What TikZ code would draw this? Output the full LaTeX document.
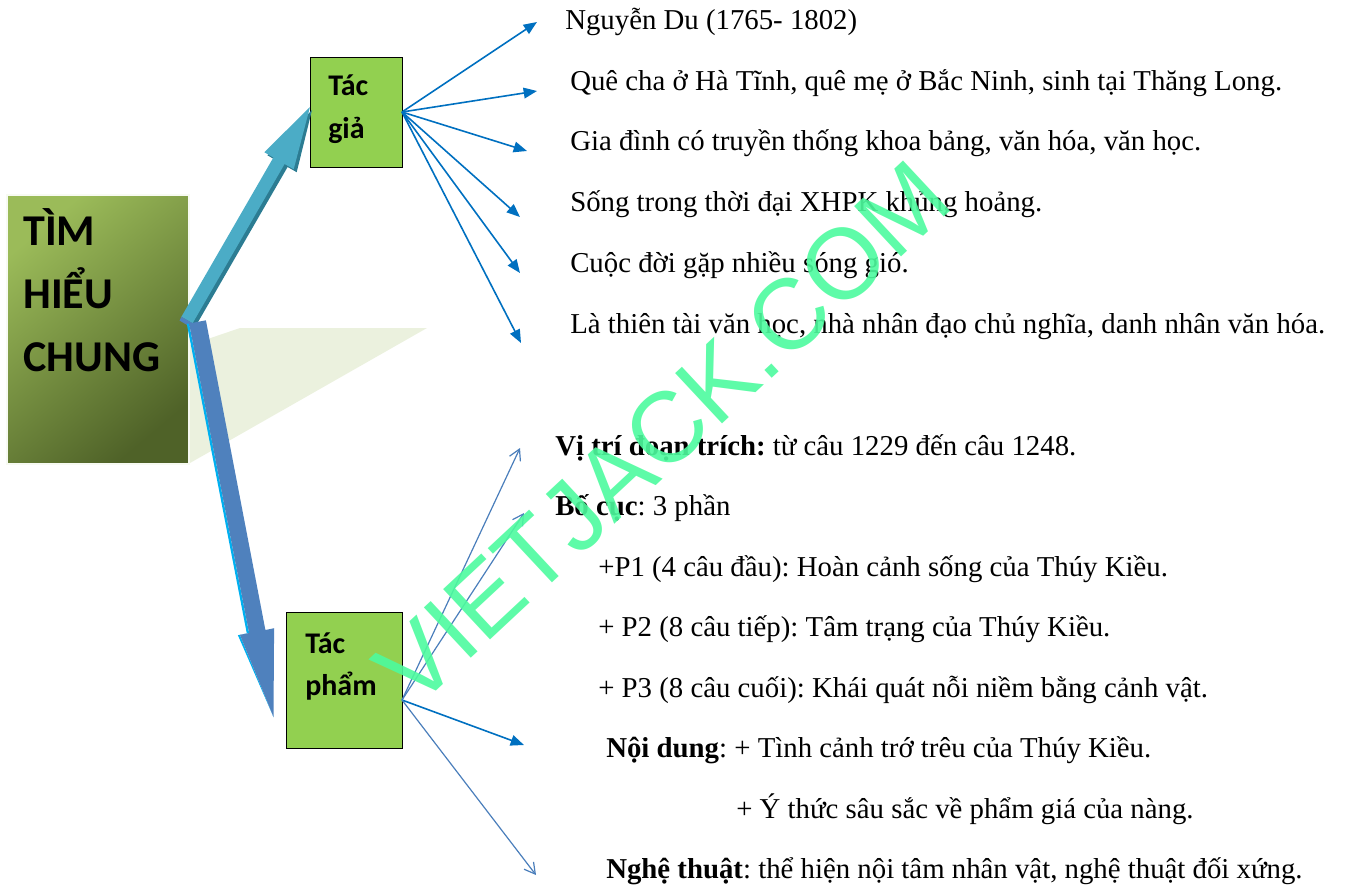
\documentclass[tikz,border=0pt]{standalone}
\usepackage{fontspec}
\setmainfont{Liberation Serif}
\newfontfamily\calib{Carlito}
\newfontfamily\wmfont{Liberation Sans}
\usetikzlibrary{arrows.meta,calc}
\definecolor{boxgreen}{HTML}{92D050}
\definecolor{olivelight}{HTML}{9BBB59}
\definecolor{olivedark}{HTML}{4F6228}
\definecolor{shadowgreen}{HTML}{EBF1DE}
\definecolor{arrblue}{HTML}{0070C0}
\definecolor{openblue}{HTML}{4A7EBB}
\definecolor{upfill}{HTML}{4BACC6}
\definecolor{upside}{HTML}{2C7C92}
\definecolor{downfill}{HTML}{4F81BD}
\definecolor{downedge}{HTML}{00B0F0}
\definecolor{wmgreen}{HTML}{4DFB9E}
\frenchspacing
\begin{document}
\begin{tikzpicture}[x=0.75pt,y=-0.75pt,
  txt/.style={inner sep=0pt,anchor=base west,font=\fontsize{21.6}{26}\selectfont},
  boxlbl/.style={inner sep=0pt,anchor=base west,font=\calib\bfseries\fontsize{22.5}{27}\selectfont},
  titlelbl/.style={inner sep=0pt,anchor=base west,font=\calib\bfseries\fontsize{33}{40}\selectfont},
  greenbox/.style={draw=black,line width=0.9pt,fill=boxgreen,inner sep=0pt,anchor=north west},
  fillarrow/.style={draw=arrblue,line width=1.2pt,-{Triangle[length=10pt,width=8pt]}},
  openarrow/.style={draw=openblue,line width=0.9pt,-{Straight Barb[length=8pt,width=9pt,line width=0.9pt]}}]
\useasboundingbox (0,0) rectangle (1351,890);
% shadow behind big box
\fill[shadowgreen] (190,345) -- (240,328) -- (427,328) -- (190,463) -- cycle;
% big box
\node[draw=white!92!olivelight,line width=1.5pt,anchor=north west,inner sep=0pt,
  minimum width=136.5pt,minimum height=201.75pt,
  top color=olivelight,bottom color=olivedark,shading angle=40] (bb) at (6,194) {};
\node[titlelbl] (bbt1) at (23,245) {TÌM};
\node[titlelbl] (bbt2) at (23,308) {HIỂU};
\node[titlelbl] (bbt3) at (23,371) {CHUNG};
% green boxes
\node[greenbox,minimum width=69pt,minimum height=82.5pt] (tg) at (310,57) {};
\node[boxlbl] (tg1) at (328,95) {Tác};
\node[boxlbl] (tg2) at (328,138) {giả};
\node[greenbox,minimum width=87pt,minimum height=102pt] (tp) at (286,612) {};
\node[boxlbl] (tp1) at (305,653) {Tác};
\node[boxlbl] (tp2) at (305,695) {phẩm};
% big arrow up (to Tác giả)
\coordinate (ua) at (187,320);
\coordinate (ut) at (310,107);
\fill[upside] (184.4,319.75) -- (195.6,326.25) -- (287.6,167) -- (296.7,172.2) -- (312,110) -- (267.3,155.2) -- (276.4,160.5) -- cycle;
\fill[upfill] (181.4,316.75) -- (192.6,323.25) -- (284.6,164) -- (293.7,169.2) -- (ut) -- (264.3,152.2) -- (273.4,157.5) -- cycle;
\fill[downfill] (181.4,316.75) -- (192.6,323.25) -- (190.5,327) -- (179.5,320.5) -- cycle;
% big arrow down (to Tác phẩm)
\coordinate (da) at (197,322);
\coordinate (dt) at (273.5,717);
\fill[downedge] (186.8,323.9) -- (189.1,323.5) -- (249.1,633) -- (239.9,634.8) -- (dt) -- (237.9,635.2) -- (246.8,633.4) -- cycle;
\fill[downfill] (189.1,323.5) -- (205.9,320.3) -- (265.4,630) -- (274.1,628.2) -- (dt) -- (239.9,634.8) -- (249.1,633) -- cycle;
% arrows from Tác giả
\coordinate (tgo) at (402,112);
\coordinate (e1) at (537,22);
\coordinate (e2) at (537,91);
\coordinate (e3) at (527,151);
\coordinate (e4) at (520,217);
\coordinate (e5) at (520,273);
\coordinate (e6) at (521,343);
\foreach \e in {e1,e2,e3,e4,e5,e6} \draw[fillarrow] (tgo) -- (\e);
% arrows from Tác phẩm
\coordinate (tpo) at (402,700);
\coordinate (f1) at (520,448);
\coordinate (f2) at (524,513);
\coordinate (f3) at (524,745);
\coordinate (f4) at (536,875);
\draw[openarrow] (tpo) -- (f1);
\draw[openarrow] (tpo) -- (f2);
\draw[fillarrow] (tpo) -- (f3);
\draw[openarrow] (tpo) -- (f4);
% texts, author
\node[txt] (a1) at (565,29) {Nguyễn Du (1765- 1802)};
\node[txt] (a2) at (570,90) {Quê cha ở Hà Tĩnh, quê mẹ ở Bắc Ninh, sinh tại Thăng Long.};
\node[txt] (a3) at (570,150.5) {Gia đình có truyền thống khoa bảng, văn hóa, văn học.};
\node[txt] (a4) at (570,211.5) {Sống trong thời đại XHPK khủng hoảng.};
\node[txt] (a5) at (570,272) {Cuộc đời gặp nhiều sóng gió.};
\node[txt] (a6) at (570,333) {Là thiên tài văn học, nhà nhân đạo chủ nghĩa, danh nhân văn hóa.};
% texts, work
\node[txt] (w1) at (555,455) {\textbf{Vị trí đoạn trích:} từ câu 1229 đến câu 1248.};
\node[txt] (w2) at (555,515.5) {\textbf{Bố cục}: 3 phần};
\node[txt] (w3) at (598,576) {+P1 (4 câu đầu): Hoàn cảnh sống của Thúy Kiều.};
\node[txt] (w4) at (598,636.5) {+ P2 (8 câu tiếp): Tâm trạng của Thúy Kiều.};
\node[txt] (w5) at (598,697) {+ P3 (8 câu cuối): Khái quát nỗi niềm bằng cảnh vật.};
\node[txt] (w6) at (606,757.5) {\textbf{Nội dung}: + Tình cảnh trớ trêu của Thúy Kiều.};
\node[txt] (w7) at (736,818) {+ Ý thức sâu sắc về phẩm giá của nàng.};
\node[txt] (w8) at (606,878.5) {\textbf{Nghệ thuật}: thể hiện nội tâm nhân vật, nghệ thuật đối xứng.};
% watermark
\node[inner sep=0pt,anchor=base,rotate=43,text=wmgreen,opacity=0.9,
  font=\wmfont\fontsize{75}{80}\selectfont] (wm) at (686,458) {VIETJACK.COM};
\end{tikzpicture}
\end{document}
